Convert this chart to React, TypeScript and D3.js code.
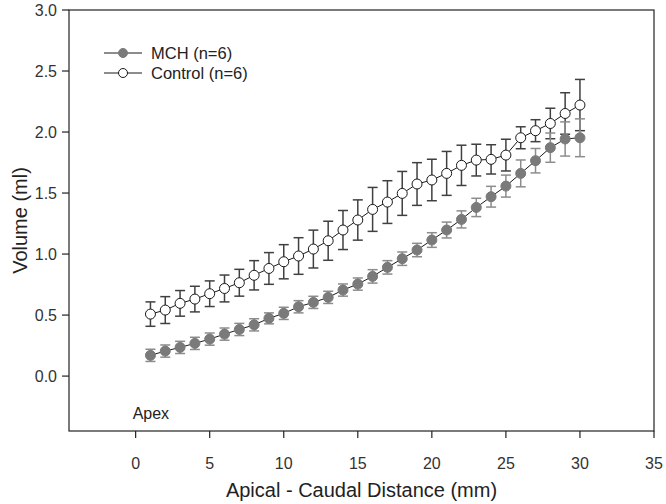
// Volume vs apical-caudal distance, MCH vs Control
import React from 'react';
import * as d3 from 'd3';

const distance = [1, 2, 3, 4, 5, 6, 7, 8, 9, 10, 11, 12, 13, 14, 15, 16, 17, 18, 19, 20, 21, 22, 23, 24, 25, 26, 27, 28, 29, 30];

const mchMean = [0.17, 0.205, 0.235, 0.268, 0.303, 0.344, 0.382, 0.42, 0.473, 0.514, 0.568, 0.604, 0.645, 0.705, 0.754, 0.817, 0.891, 0.962, 1.033, 1.115, 1.197, 1.284, 1.382, 1.47, 1.557, 1.661, 1.765, 1.872, 1.943, 1.953];
const mchErr = [0.05, 0.05, 0.05, 0.05, 0.05, 0.05, 0.05, 0.05, 0.045, 0.05, 0.05, 0.05, 0.05, 0.05, 0.05, 0.055, 0.055, 0.055, 0.055, 0.06, 0.065, 0.07, 0.075, 0.085, 0.09, 0.11, 0.1, 0.12, 0.14, 0.155];

const ctlMean = [0.508, 0.541, 0.596, 0.631, 0.675, 0.718, 0.765, 0.826, 0.882, 0.937, 0.984, 1.041, 1.109, 1.197, 1.279, 1.366, 1.426, 1.497, 1.574, 1.607, 1.661, 1.727, 1.77, 1.776, 1.811, 1.953, 2.011, 2.07, 2.152, 2.221];
const ctlErr = [0.1, 0.11, 0.105, 0.105, 0.105, 0.11, 0.11, 0.12, 0.13, 0.14, 0.15, 0.155, 0.16, 0.16, 0.165, 0.18, 0.175, 0.18, 0.175, 0.17, 0.18, 0.165, 0.13, 0.12, 0.13, 0.09, 0.09, 0.125, 0.17, 0.21];

const xTicks = [0, 5, 10, 15, 20, 25, 30, 35];
const yTicks = [0, 0.5, 1.0, 1.5, 2.0, 2.5, 3.0];

const W = 666;
const H = 504;
const FONT = '"Liberation Sans", Arial, sans-serif';

export default function App() {
  const x = d3.scaleLinear().domain([-4.5, 35]).range([69, 654]);
  const y = d3.scaleLinear().domain([-0.45, 3.0]).range([431, 10]);
  const line = d3.line<number>().x((_, i) => x(distance[i])).y(d => y(d));

  const series = [
    { name: 'Control (n=6)', mean: ctlMean, err: ctlErr, fill: '#ffffff', stroke: '#1a1a1a', errColor: '#404040' },
    { name: 'MCH (n=6)', mean: mchMean, err: mchErr, fill: '#7a7a7a', stroke: '#7a7a7a', errColor: '#8c8c8c' },
  ];
  const legend = [series[1], series[0]];

  const [x0, x1] = x.range();
  const [yb, yt] = y.range();

  return (
    <svg width={W} height={H} style={{ position: 'absolute', left: 0, top: 0, display: 'block', background: '#fff' }} fontFamily={FONT}>
      {/* frame */}
      <rect x={x0} y={yt} width={x1 - x0} height={yb - yt} fill="none" stroke="#222" strokeWidth={1.2} />

      {/* y axis ticks */}
      {yTicks.map(t => (
        <g key={'y' + t}>
          <line x1={x0 - 7} x2={x0} y1={y(t)} y2={y(t)} stroke="#222" strokeWidth={1.2} />
          <text x={x0 - 12} y={y(t)} dy="0.35em" textAnchor="end" fontSize={16} fill="#333">{t.toFixed(1)}</text>
        </g>
      ))}

      {/* x axis ticks */}
      {xTicks.map(t => (
        <g key={'x' + t}>
          <line x1={x(t)} x2={x(t)} y1={yb} y2={yb + 7} stroke="#222" strokeWidth={1.2} />
          <text x={x(t)} y={yb + 38} textAnchor="middle" fontSize={16} fill="#333">{t}</text>
        </g>
      ))}

      <text x={(x0 + x1) / 2} y={497} textAnchor="middle" fontSize={20} fill="#222">Apical - Caudal Distance (mm)</text>
      <text transform={`translate(20,${(yt + yb) / 2}) rotate(-90)`} textAnchor="middle" dy="0.35em" fontSize={20} fill="#222">Volume (ml)</text>
      <text x={x(0) - 3} y={yb - 12} fontSize={16} fill="#222">Apex</text>

      {series.map(s => (
        <g key={s.name}>
          {s.mean.map((m, i) => {
            const cx = x(distance[i]);
            const hi = y(m + s.err[i]);
            const lo = y(m - s.err[i]);
            return (
              <g key={i} stroke={s.errColor} strokeWidth={1.5}>
                <line x1={cx} x2={cx} y1={hi} y2={lo} />
                <line x1={cx - 5} x2={cx + 5} y1={hi} y2={hi} />
                <line x1={cx - 5} x2={cx + 5} y1={lo} y2={lo} />
              </g>
            );
          })}
          <path d={line(s.mean) || ''} fill="none" stroke="#1a1a1a" strokeWidth={1} />
          {s.mean.map((m, i) => (
            <circle key={i} cx={x(distance[i])} cy={y(m)} r={5} fill={s.fill} stroke={s.stroke} strokeWidth={1} />
          ))}
        </g>
      ))}

      {/* legend */}
      {legend.map((s, i) => (
        <g key={s.name} transform={`translate(0,${53 + i * 20})`}>
          <line x1={104} x2={142} y1={0} y2={0} stroke="#1a1a1a" strokeWidth={1} />
          <circle cx={123} cy={0} r={4.5} fill={s.fill} stroke={s.stroke} strokeWidth={1} />
          <text x={151} y={0} dy="0.35em" fontSize={16.5} fill="#222">{s.name}</text>
        </g>
      ))}
    </svg>
  );
}
